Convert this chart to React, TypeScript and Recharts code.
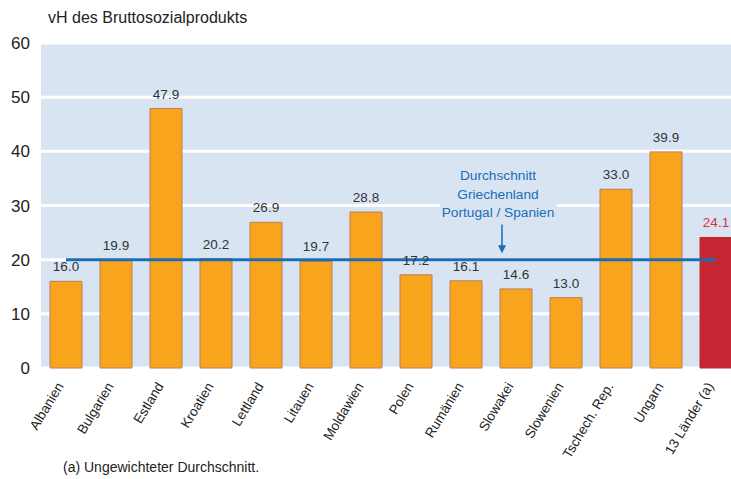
import { BarChart, Bar, XAxis, YAxis, CartesianGrid, ReferenceLine, LabelList, Cell, Customized } from "recharts";

const categories = [
  "Albanien", "Bulgarien", "Estland", "Kroatien", "Lettland", "Litauen", "Moldawien",
  "Polen", "Rumänien", "Slowakei", "Slowenien", "Tschech. Rep.", "Ungarn", "13 Länder (a)",
];
const values = [16.0, 19.9, 47.9, 20.2, 26.9, 19.7, 28.8, 17.2, 16.1, 14.6, 13.0, 33.0, 39.9, 24.1];
const yTicks = [0, 10, 20, 30, 40, 50, 60];
const averageSouth = 20; // Griechenland / Portugal / Spanien
const noteLines = ["Durchschnitt", "Griechenland", "Portugal / Spanien"];

const data = categories.map((name, i) => ({ name, value: values[i] }));

const FONT = "'Liberation Sans', Arial, Helvetica, sans-serif";
const BG = "#d9e4f3";
const ORANGE = "#f8a51d";
const RED = "#c42732";
const BLUE = "#1a6db5";

// layout constants used for the free annotations
const PLOT_LEFT = 41;
const PLOT_TOP = 43;
const PLOT_H = 325;
const BAND = 50;
const yPx = (v: number) => PLOT_TOP + PLOT_H * (1 - v / 60);

function XTick({ x, y, payload }: any) {
  return (
    <text
      x={x - 2}
      y={y + 18}
      transform={`rotate(-59, ${x - 2}, ${y + 18})`}
      textAnchor="end"
      fontSize={13.5}
      fill="#222"
      fontFamily={FONT}
    >
      {payload.value}
    </text>
  );
}

function ValueLabel(props: any) {
  const { x, y, width, value, index } = props;
  const last = index === values.length - 1;
  return (
    <text
      x={x + width / 2}
      y={y - 10}
      textAnchor="middle"
      fontSize={13.5}
      fill={last ? "#d0353c" : "#333"}
      fontFamily={FONT}
    >
      {Number(value).toFixed(1)}
    </text>
  );
}

function Annotations() {
  const arrowX = PLOT_LEFT + BAND * (8.5 + 0.72);
  const top = yPx(26.5);
  const tip = yPx(21.2);
  const cx = arrowX - 4;
  return (
    <g fontFamily={FONT}>
      <text x={48} y={23} fontSize={16} fill="#222">vH des Bruttosozialprodukts</text>
      <text x={63} y={472} fontSize={14} fill="#222">(a) Ungewichteter Durchschnitt.</text>
      <rect x={440} y={162} width={117} height={60} fill={BG} />
      {noteLines.map((t, i) => (
        <text key={t} x={cx} y={180 + i * 18.5} textAnchor="middle" fontSize={13.7} fill={BLUE}>
          {t}
        </text>
      ))}
      <line x1={arrowX} y1={top} x2={arrowX} y2={tip - 6} stroke={BLUE} strokeWidth={1.5} />
      <path d={`M${arrowX - 4},${tip - 8} L${arrowX + 4},${tip - 8} L${arrowX},${tip} Z`} fill={BLUE} />
    </g>
  );
}

export default function App() {
  return (
    <div style={{ position: "absolute", left: 0, top: 0, width: 731, height: 479, overflow: "hidden", background: "#fff" }}>
      <BarChart width={741} height={479} data={data} margin={{ top: PLOT_TOP, right: 0, bottom: 0, left: 0 }}>
        <CartesianGrid vertical={false} fill={BG} stroke="#fff" strokeWidth={3} fillOpacity={1} />
        <XAxis
          dataKey="name"
          height={111}
          axisLine={false}
          tickLine={false}
          tickSize={0}
          tickMargin={0}
          interval={0}
          tick={<XTick />}
        />
        <YAxis
          width={41}
          domain={[0, 60]}
          ticks={yTicks}
          axisLine={false}
          tickLine={false}
          tickSize={0}
          tickMargin={11}
          tick={{ fontSize: 17, fill: "#222", fontFamily: FONT }}
        />
        <Bar dataKey="value" barSize={32} fill={ORANGE} stroke="#bb7f58" strokeWidth={1} isAnimationActive={false}>
          {data.map((d, i) => (
            <Cell key={d.name} fill={i === data.length - 1 ? RED : ORANGE} stroke={i === data.length - 1 ? RED : "#bb7f58"} />
          ))}
          <LabelList dataKey="value" content={<ValueLabel />} />
        </Bar>
        <ReferenceLine
          segment={[
            { x: categories[0], y: averageSouth },
            { x: categories[categories.length - 1], y: averageSouth },
          ]}
          stroke={BLUE}
          strokeWidth={3}
        />
        <Customized component={<Annotations />} />
      </BarChart>
    </div>
  );
}
